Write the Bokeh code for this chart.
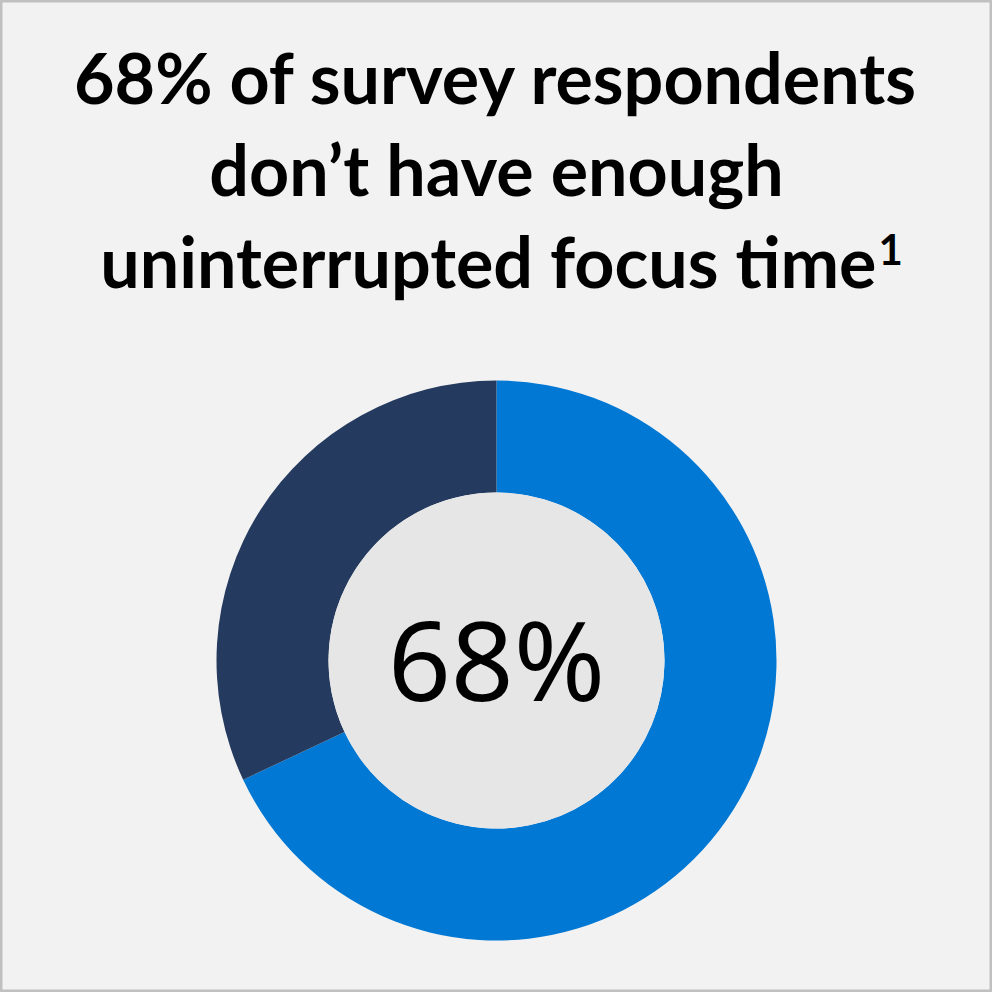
from bokeh.plotting import figure
from bokeh.models import Range1d, ColumnDataSource
from bokeh.core.properties import value
from bokeh.embed import file_html
from bokeh.resources import INLINE
import math

# Data
categories = ["Not enough focus time", "Enough focus time"]
shares = [68, 32]
colors = ["#0078d4", "#243a5e"]
title_lines = ["68% of survey respondents", "don\u2019t have enough", "uninterrupted focus time"]
center_label = "68%"
footnote = "1"

W = H = 992
p = figure(width=W, height=H, output_backend="svg", toolbar_location=None,
           x_range=Range1d(0, W), y_range=Range1d(0, H), min_border=0)
p.axis.visible = False
p.grid.visible = False
p.background_fill_color = "#f2f2f2"
p.border_fill_color = "#f2f2f2"
p.outline_line_color = "#c0c0c0"
p.outline_line_width = 4

cx, cy = 496, 992 - 660
r_out, r_in = 280, 168

# wedges, clockwise from top
starts, ends = [], []
a = math.pi / 2
total = sum(shares)
for s in shares:
    starts.append(a)
    a = a - s / total * 2 * math.pi
    ends.append(a)
src = ColumnDataSource(dict(cat=categories, share=shares, color=colors,
                            start=starts, end=ends,
                            x=[cx] * len(shares), y=[cy] * len(shares)))
p.annular_wedge(x="x", y="y", inner_radius=r_in, outer_radius=r_out,
                start_angle="start", end_angle="end", direction="clock",
                fill_color="color", line_color=None, source=src)
p.circle(x=[cx], y=[cy], radius=r_in, fill_color="#e6e6e6", line_color=None)

p.text(x=[cx], y=[cy + 3], text=[center_label], text_font=value("Noto Sans"),
       text_font_size="110px", text_align="center", text_baseline="middle",
       text_color="#000000")

off = 29  # baseline correction
ys = [992 - 105 + off, 992 - 197 + off]
p.text(x=[496] * 2, y=ys, text=title_lines[:2], text_font=value("Lato"),
       text_font_style="bold", text_font_size="70px", text_align="center",
       text_baseline="alphabetic", text_color="#000000")
p.text(x=[876], y=[992 - 289 + off], text=[title_lines[2]], text_font=value("Lato"),
       text_font_style="bold", text_font_size="70px", text_align="right",
       text_baseline="alphabetic", text_color="#000000")
p.text(x=[878], y=[992 - 267 + 18], text=[footnote], text_font=value("Lato"),
       text_font_style="bold", text_font_size="42px", text_align="left",
       text_baseline="alphabetic", text_color="#000000")

open("out.html", "w").write(file_html(p, INLINE))
